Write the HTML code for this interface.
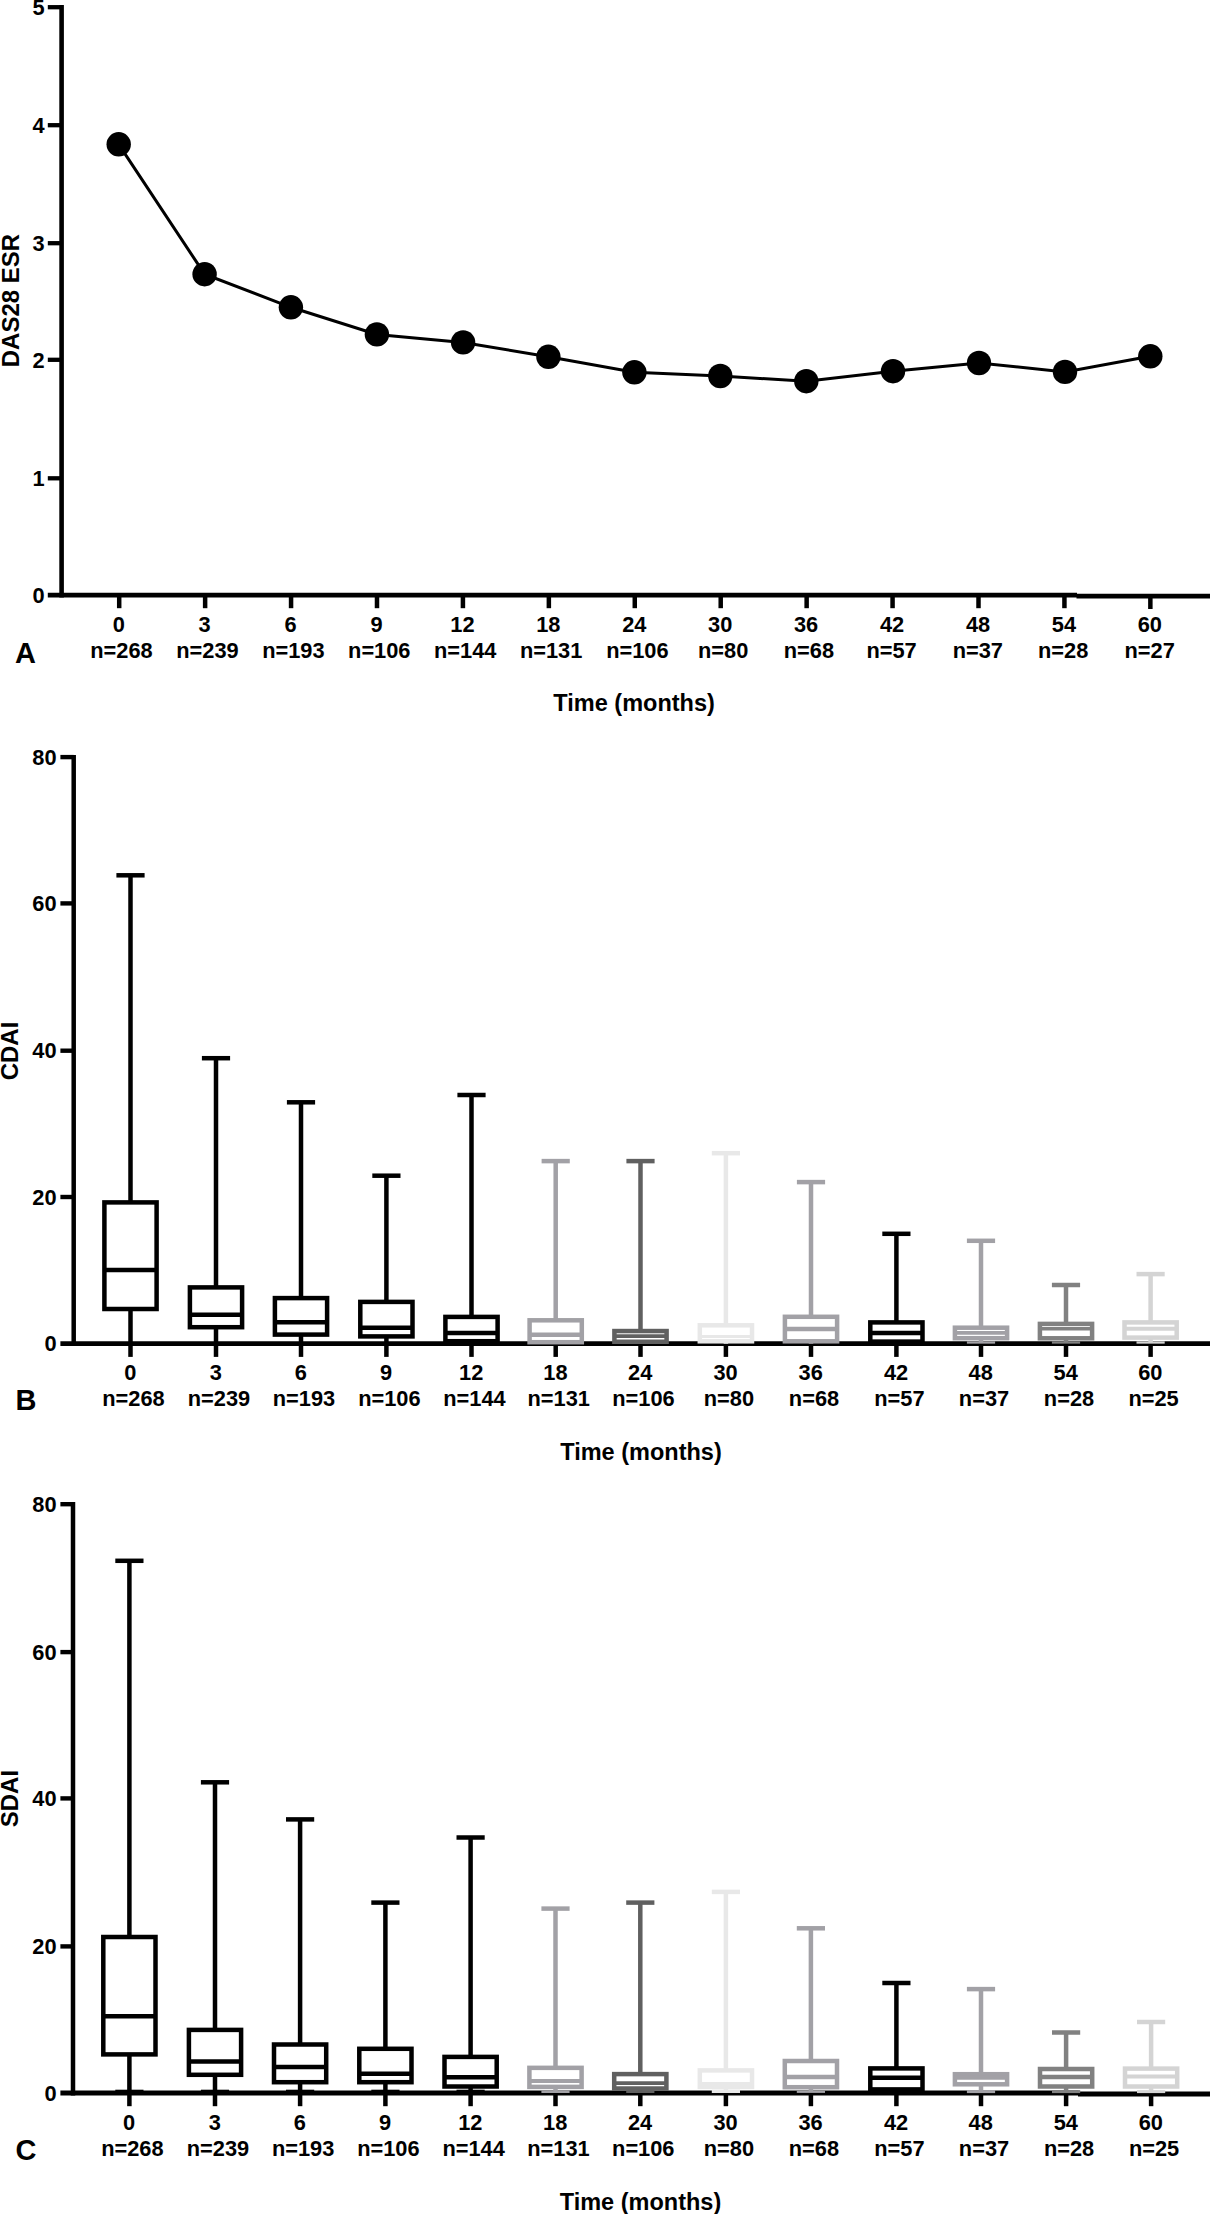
<!DOCTYPE html>
<html lang="en">
<head>
<meta charset="utf-8">
<title>DAS28 ESR, CDAI and SDAI over time</title>
<style>
html, body { margin: 0; padding: 0; background: #fff; }
svg { display: block; }
text { font-family: "Liberation Sans", Arial, Helvetica, sans-serif; font-weight: bold; fill: #000; }
</style>
</head>
<body>
<svg width="1210" height="2214" viewBox="0 0 1210 2214">
<rect width="1210" height="2214" fill="#fff"/>
<line x1="61.60" y1="5.00" x2="61.60" y2="597.60" stroke="#000" stroke-width="4.6" stroke-linecap="butt"/>
<line x1="47.80" y1="595.20" x2="1077.00" y2="595.20" stroke="#000" stroke-width="4.8" stroke-linecap="butt"/>
<line x1="1076.50" y1="596.20" x2="1210.00" y2="596.20" stroke="#000" stroke-width="4.8" stroke-linecap="butt"/>
<text x="44.60" y="602.90" font-size="21.8" text-anchor="end">0</text>
<line x1="47.80" y1="478.30" x2="61.60" y2="478.30" stroke="#000" stroke-width="4.3" stroke-linecap="butt"/>
<text x="44.60" y="486.00" font-size="21.8" text-anchor="end">1</text>
<line x1="47.80" y1="359.80" x2="61.60" y2="359.80" stroke="#000" stroke-width="4.3" stroke-linecap="butt"/>
<text x="44.60" y="367.50" font-size="21.8" text-anchor="end">2</text>
<line x1="47.80" y1="243.20" x2="61.60" y2="243.20" stroke="#000" stroke-width="4.3" stroke-linecap="butt"/>
<text x="44.60" y="250.90" font-size="21.8" text-anchor="end">3</text>
<line x1="47.80" y1="125.20" x2="61.60" y2="125.20" stroke="#000" stroke-width="4.3" stroke-linecap="butt"/>
<text x="44.60" y="132.90" font-size="21.8" text-anchor="end">4</text>
<line x1="47.80" y1="7.20" x2="61.60" y2="7.20" stroke="#000" stroke-width="4.3" stroke-linecap="butt"/>
<text x="44.60" y="14.90" font-size="21.8" text-anchor="end">5</text>
<text transform="translate(18.50 300.60) rotate(-90)" font-size="24" text-anchor="middle">DAS28 ESR</text>
<line x1="119.20" y1="595.20" x2="119.20" y2="608.20" stroke="#000" stroke-width="4.5" stroke-linecap="butt"/>
<text x="118.70" y="631.80" font-size="21.8" text-anchor="middle">0</text>
<text x="121.50" y="658.20" font-size="21.8" text-anchor="middle">n=268</text>
<line x1="205.13" y1="595.20" x2="205.13" y2="608.20" stroke="#000" stroke-width="4.5" stroke-linecap="butt"/>
<text x="204.63" y="631.80" font-size="21.8" text-anchor="middle">3</text>
<text x="207.43" y="658.20" font-size="21.8" text-anchor="middle">n=239</text>
<line x1="291.06" y1="595.20" x2="291.06" y2="608.20" stroke="#000" stroke-width="4.5" stroke-linecap="butt"/>
<text x="290.56" y="631.80" font-size="21.8" text-anchor="middle">6</text>
<text x="293.36" y="658.20" font-size="21.8" text-anchor="middle">n=193</text>
<line x1="376.99" y1="595.20" x2="376.99" y2="608.20" stroke="#000" stroke-width="4.5" stroke-linecap="butt"/>
<text x="376.49" y="631.80" font-size="21.8" text-anchor="middle">9</text>
<text x="379.29" y="658.20" font-size="21.8" text-anchor="middle">n=106</text>
<line x1="462.92" y1="595.20" x2="462.92" y2="608.20" stroke="#000" stroke-width="4.5" stroke-linecap="butt"/>
<text x="462.42" y="631.80" font-size="21.8" text-anchor="middle">12</text>
<text x="465.22" y="658.20" font-size="21.8" text-anchor="middle">n=144</text>
<line x1="548.85" y1="595.20" x2="548.85" y2="608.20" stroke="#000" stroke-width="4.5" stroke-linecap="butt"/>
<text x="548.35" y="631.80" font-size="21.8" text-anchor="middle">18</text>
<text x="551.15" y="658.20" font-size="21.8" text-anchor="middle">n=131</text>
<line x1="634.78" y1="595.20" x2="634.78" y2="608.20" stroke="#000" stroke-width="4.5" stroke-linecap="butt"/>
<text x="634.28" y="631.80" font-size="21.8" text-anchor="middle">24</text>
<text x="637.38" y="658.20" font-size="21.8" text-anchor="middle">n=106</text>
<line x1="720.71" y1="595.20" x2="720.71" y2="608.20" stroke="#000" stroke-width="4.5" stroke-linecap="butt"/>
<text x="720.21" y="631.80" font-size="21.8" text-anchor="middle">30</text>
<text x="723.21" y="658.20" font-size="21.8" text-anchor="middle">n=80</text>
<line x1="806.64" y1="595.20" x2="806.64" y2="608.20" stroke="#000" stroke-width="4.5" stroke-linecap="butt"/>
<text x="806.14" y="631.80" font-size="21.8" text-anchor="middle">36</text>
<text x="808.94" y="658.20" font-size="21.8" text-anchor="middle">n=68</text>
<line x1="892.57" y1="595.20" x2="892.57" y2="608.20" stroke="#000" stroke-width="4.5" stroke-linecap="butt"/>
<text x="892.07" y="631.80" font-size="21.8" text-anchor="middle">42</text>
<text x="891.57" y="658.20" font-size="21.8" text-anchor="middle">n=57</text>
<line x1="978.50" y1="595.20" x2="978.50" y2="608.20" stroke="#000" stroke-width="4.5" stroke-linecap="butt"/>
<text x="978.00" y="631.80" font-size="21.8" text-anchor="middle">48</text>
<text x="977.80" y="658.20" font-size="21.8" text-anchor="middle">n=37</text>
<line x1="1064.43" y1="595.20" x2="1064.43" y2="608.20" stroke="#000" stroke-width="4.5" stroke-linecap="butt"/>
<text x="1063.93" y="631.80" font-size="21.8" text-anchor="middle">54</text>
<text x="1063.13" y="658.20" font-size="21.8" text-anchor="middle">n=28</text>
<line x1="1150.36" y1="595.20" x2="1150.36" y2="609.00" stroke="#000" stroke-width="4.5" stroke-linecap="butt"/>
<text x="1149.86" y="631.80" font-size="21.8" text-anchor="middle">60</text>
<text x="1149.66" y="658.20" font-size="21.8" text-anchor="middle">n=27</text>
<text x="25.45" y="662.80" font-size="29" text-anchor="middle">A</text>
<text x="634.10" y="711.10" font-size="23.5" text-anchor="middle">Time (months)</text>
<polyline fill="none" stroke="#000" stroke-width="3" points="118.7,144.3 204.6,274.2 290.9,307.3 376.9,334.4 463.1,342.4 548.4,356.8 634.4,372.3 720.3,376.0 806.3,381.2 893.0,371.2 979.0,363.0 1065.0,371.9 1150.3,356.3"/>
<circle cx="118.7" cy="144.3" r="12.2" fill="#000"/>
<circle cx="204.6" cy="274.2" r="12.2" fill="#000"/>
<circle cx="290.9" cy="307.3" r="12.2" fill="#000"/>
<circle cx="376.9" cy="334.4" r="12.2" fill="#000"/>
<circle cx="463.1" cy="342.4" r="12.2" fill="#000"/>
<circle cx="548.4" cy="356.8" r="12.2" fill="#000"/>
<circle cx="634.4" cy="372.3" r="12.2" fill="#000"/>
<circle cx="720.3" cy="376.0" r="12.2" fill="#000"/>
<circle cx="806.3" cy="381.2" r="12.2" fill="#000"/>
<circle cx="893.0" cy="371.2" r="12.2" fill="#000"/>
<circle cx="979.0" cy="363.0" r="12.2" fill="#000"/>
<circle cx="1065.0" cy="371.9" r="12.2" fill="#000"/>
<circle cx="1150.3" cy="356.3" r="12.2" fill="#000"/>
<line x1="73.70" y1="754.90" x2="73.70" y2="1346.10" stroke="#000" stroke-width="4.5" stroke-linecap="butt"/>
<line x1="60.40" y1="1343.70" x2="1210.00" y2="1343.70" stroke="#000" stroke-width="4.8" stroke-linecap="butt"/>
<text x="56.60" y="1351.40" font-size="21.8" text-anchor="end">0</text>
<line x1="60.40" y1="1197.00" x2="73.70" y2="1197.00" stroke="#000" stroke-width="4.4" stroke-linecap="butt"/>
<text x="56.60" y="1204.70" font-size="21.8" text-anchor="end">20</text>
<line x1="60.40" y1="1050.70" x2="73.70" y2="1050.70" stroke="#000" stroke-width="4.4" stroke-linecap="butt"/>
<text x="56.60" y="1058.40" font-size="21.8" text-anchor="end">40</text>
<line x1="60.40" y1="903.40" x2="73.70" y2="903.40" stroke="#000" stroke-width="4.4" stroke-linecap="butt"/>
<text x="56.60" y="911.10" font-size="21.8" text-anchor="end">60</text>
<line x1="60.40" y1="757.10" x2="73.70" y2="757.10" stroke="#000" stroke-width="4.4" stroke-linecap="butt"/>
<text x="56.60" y="764.80" font-size="21.8" text-anchor="end">80</text>
<text transform="translate(18.25 1051.00) rotate(-90)" font-size="24" text-anchor="middle">CDAI</text>
<line x1="130.50" y1="1343.70" x2="130.50" y2="1356.90" stroke="#000" stroke-width="4.5" stroke-linecap="butt"/>
<text x="130.20" y="1380.40" font-size="21.8" text-anchor="middle">0</text>
<text x="133.50" y="1406.30" font-size="21.8" text-anchor="middle">n=268</text>
<line x1="216.00" y1="1343.70" x2="216.00" y2="1356.90" stroke="#000" stroke-width="4.5" stroke-linecap="butt"/>
<text x="215.70" y="1380.40" font-size="21.8" text-anchor="middle">3</text>
<text x="219.00" y="1406.30" font-size="21.8" text-anchor="middle">n=239</text>
<line x1="301.00" y1="1343.70" x2="301.00" y2="1356.90" stroke="#000" stroke-width="4.5" stroke-linecap="butt"/>
<text x="300.70" y="1380.40" font-size="21.8" text-anchor="middle">6</text>
<text x="304.00" y="1406.30" font-size="21.8" text-anchor="middle">n=193</text>
<line x1="386.40" y1="1343.70" x2="386.40" y2="1356.90" stroke="#000" stroke-width="4.5" stroke-linecap="butt"/>
<text x="386.10" y="1380.40" font-size="21.8" text-anchor="middle">9</text>
<text x="389.40" y="1406.30" font-size="21.8" text-anchor="middle">n=106</text>
<line x1="471.50" y1="1343.70" x2="471.50" y2="1356.90" stroke="#000" stroke-width="4.5" stroke-linecap="butt"/>
<text x="471.20" y="1380.40" font-size="21.8" text-anchor="middle">12</text>
<text x="474.50" y="1406.30" font-size="21.8" text-anchor="middle">n=144</text>
<line x1="555.70" y1="1343.70" x2="555.70" y2="1356.90" stroke="#000" stroke-width="4.5" stroke-linecap="butt"/>
<text x="555.40" y="1380.40" font-size="21.8" text-anchor="middle">18</text>
<text x="558.70" y="1406.30" font-size="21.8" text-anchor="middle">n=131</text>
<line x1="640.50" y1="1343.70" x2="640.50" y2="1356.90" stroke="#000" stroke-width="4.5" stroke-linecap="butt"/>
<text x="640.20" y="1380.40" font-size="21.8" text-anchor="middle">24</text>
<text x="643.50" y="1406.30" font-size="21.8" text-anchor="middle">n=106</text>
<line x1="725.90" y1="1343.70" x2="725.90" y2="1356.90" stroke="#000" stroke-width="4.5" stroke-linecap="butt"/>
<text x="725.60" y="1380.40" font-size="21.8" text-anchor="middle">30</text>
<text x="728.90" y="1406.30" font-size="21.8" text-anchor="middle">n=80</text>
<line x1="811.00" y1="1343.70" x2="811.00" y2="1356.90" stroke="#000" stroke-width="4.5" stroke-linecap="butt"/>
<text x="810.70" y="1380.40" font-size="21.8" text-anchor="middle">36</text>
<text x="814.00" y="1406.30" font-size="21.8" text-anchor="middle">n=68</text>
<line x1="896.40" y1="1343.70" x2="896.40" y2="1356.90" stroke="#000" stroke-width="4.5" stroke-linecap="butt"/>
<text x="896.10" y="1380.40" font-size="21.8" text-anchor="middle">42</text>
<text x="899.40" y="1406.30" font-size="21.8" text-anchor="middle">n=57</text>
<line x1="981.00" y1="1343.70" x2="981.00" y2="1356.90" stroke="#000" stroke-width="4.5" stroke-linecap="butt"/>
<text x="980.70" y="1380.40" font-size="21.8" text-anchor="middle">48</text>
<text x="984.00" y="1406.30" font-size="21.8" text-anchor="middle">n=37</text>
<line x1="1066.00" y1="1343.70" x2="1066.00" y2="1356.90" stroke="#000" stroke-width="4.5" stroke-linecap="butt"/>
<text x="1065.70" y="1380.40" font-size="21.8" text-anchor="middle">54</text>
<text x="1069.00" y="1406.30" font-size="21.8" text-anchor="middle">n=28</text>
<line x1="1150.60" y1="1343.70" x2="1150.60" y2="1356.90" stroke="#000" stroke-width="4.5" stroke-linecap="butt"/>
<text x="1150.30" y="1380.40" font-size="21.8" text-anchor="middle">60</text>
<text x="1153.60" y="1406.30" font-size="21.8" text-anchor="middle">n=25</text>
<text x="26.00" y="1410.30" font-size="29" text-anchor="middle">B</text>
<text x="641.00" y="1460.10" font-size="23.5" text-anchor="middle">Time (months)</text>
<line x1="130.50" y1="875.30" x2="130.50" y2="1202.40" stroke="#000" stroke-width="4.5" stroke-linecap="butt"/>
<line x1="116.40" y1="875.30" x2="144.60" y2="875.30" stroke="#000" stroke-width="4.5" stroke-linecap="butt"/>
<line x1="130.50" y1="1309.00" x2="130.50" y2="1343.70" stroke="#000" stroke-width="4.5" stroke-linecap="butt"/>
<rect x="104.40" y="1202.40" width="52.20" height="106.60" fill="#fff" stroke="#000" stroke-width="4.5"/>
<line x1="104.40" y1="1270.10" x2="156.60" y2="1270.10" stroke="#000" stroke-width="4.5" stroke-linecap="butt"/>
<line x1="216.00" y1="1058.20" x2="216.00" y2="1287.40" stroke="#000" stroke-width="4.5" stroke-linecap="butt"/>
<line x1="201.90" y1="1058.20" x2="230.10" y2="1058.20" stroke="#000" stroke-width="4.5" stroke-linecap="butt"/>
<line x1="216.00" y1="1327.20" x2="216.00" y2="1343.70" stroke="#000" stroke-width="4.5" stroke-linecap="butt"/>
<rect x="189.90" y="1287.40" width="52.20" height="39.80" fill="#fff" stroke="#000" stroke-width="4.5"/>
<line x1="189.90" y1="1314.70" x2="242.10" y2="1314.70" stroke="#000" stroke-width="4.5" stroke-linecap="butt"/>
<line x1="301.00" y1="1102.30" x2="301.00" y2="1298.10" stroke="#000" stroke-width="4.5" stroke-linecap="butt"/>
<line x1="286.90" y1="1102.30" x2="315.10" y2="1102.30" stroke="#000" stroke-width="4.5" stroke-linecap="butt"/>
<line x1="301.00" y1="1334.60" x2="301.00" y2="1343.70" stroke="#000" stroke-width="4.5" stroke-linecap="butt"/>
<rect x="274.90" y="1298.10" width="52.20" height="36.50" fill="#fff" stroke="#000" stroke-width="4.5"/>
<line x1="274.90" y1="1322.20" x2="327.10" y2="1322.20" stroke="#000" stroke-width="4.5" stroke-linecap="butt"/>
<line x1="386.40" y1="1175.70" x2="386.40" y2="1301.90" stroke="#000" stroke-width="4.5" stroke-linecap="butt"/>
<line x1="372.30" y1="1175.70" x2="400.50" y2="1175.70" stroke="#000" stroke-width="4.5" stroke-linecap="butt"/>
<line x1="386.40" y1="1336.40" x2="386.40" y2="1343.70" stroke="#000" stroke-width="4.5" stroke-linecap="butt"/>
<rect x="360.30" y="1301.90" width="52.20" height="34.50" fill="#fff" stroke="#000" stroke-width="4.5"/>
<line x1="360.30" y1="1327.80" x2="412.50" y2="1327.80" stroke="#000" stroke-width="4.5" stroke-linecap="butt"/>
<line x1="471.50" y1="1095.00" x2="471.50" y2="1316.90" stroke="#000" stroke-width="4.5" stroke-linecap="butt"/>
<line x1="457.40" y1="1095.00" x2="485.60" y2="1095.00" stroke="#000" stroke-width="4.5" stroke-linecap="butt"/>
<line x1="471.50" y1="1341.20" x2="471.50" y2="1343.70" stroke="#000" stroke-width="4.5" stroke-linecap="butt"/>
<rect x="445.40" y="1316.90" width="52.20" height="24.30" fill="#fff" stroke="#000" stroke-width="4.5"/>
<line x1="445.40" y1="1333.00" x2="497.60" y2="1333.00" stroke="#000" stroke-width="4.5" stroke-linecap="butt"/>
<line x1="555.70" y1="1161.10" x2="555.70" y2="1320.30" stroke="#a2a1a6" stroke-width="4.5" stroke-linecap="butt"/>
<line x1="541.60" y1="1161.10" x2="569.80" y2="1161.10" stroke="#a2a1a6" stroke-width="4.5" stroke-linecap="butt"/>
<line x1="555.70" y1="1342.20" x2="555.70" y2="1343.70" stroke="#a2a1a6" stroke-width="4.5" stroke-linecap="butt"/>
<rect x="529.60" y="1320.30" width="52.20" height="21.90" fill="#fff" stroke="#a2a1a6" stroke-width="4.5"/>
<line x1="529.60" y1="1334.75" x2="581.80" y2="1334.75" stroke="#a2a1a6" stroke-width="4.5" stroke-linecap="butt"/>
<line x1="640.50" y1="1161.10" x2="640.50" y2="1331.05" stroke="#606060" stroke-width="4.5" stroke-linecap="butt"/>
<line x1="626.40" y1="1161.10" x2="654.60" y2="1161.10" stroke="#606060" stroke-width="4.5" stroke-linecap="butt"/>
<line x1="640.50" y1="1341.75" x2="640.50" y2="1343.70" stroke="#606060" stroke-width="4.5" stroke-linecap="butt"/>
<rect x="614.40" y="1331.05" width="52.20" height="10.70" fill="#fff" stroke="#606060" stroke-width="4.5"/>
<line x1="614.40" y1="1336.20" x2="666.60" y2="1336.20" stroke="#606060" stroke-width="3.8" stroke-linecap="butt"/>
<line x1="725.90" y1="1153.20" x2="725.90" y2="1325.30" stroke="#e8e8e8" stroke-width="4.5" stroke-linecap="butt"/>
<line x1="711.80" y1="1153.20" x2="740.00" y2="1153.20" stroke="#e8e8e8" stroke-width="4.5" stroke-linecap="butt"/>
<line x1="725.90" y1="1341.30" x2="725.90" y2="1343.70" stroke="#e8e8e8" stroke-width="4.5" stroke-linecap="butt"/>
<rect x="699.80" y="1325.30" width="52.20" height="16.00" fill="#fff" stroke="#e8e8e8" stroke-width="4.5"/>
<line x1="699.80" y1="1336.60" x2="752.00" y2="1336.60" stroke="#e8e8e8" stroke-width="3.0" stroke-linecap="butt"/>
<line x1="811.00" y1="1182.10" x2="811.00" y2="1316.80" stroke="#a2a1a6" stroke-width="4.5" stroke-linecap="butt"/>
<line x1="796.90" y1="1182.10" x2="825.10" y2="1182.10" stroke="#a2a1a6" stroke-width="4.5" stroke-linecap="butt"/>
<line x1="811.00" y1="1341.30" x2="811.00" y2="1343.70" stroke="#a2a1a6" stroke-width="4.5" stroke-linecap="butt"/>
<rect x="784.90" y="1316.80" width="52.20" height="24.50" fill="#fff" stroke="#a2a1a6" stroke-width="4.5"/>
<line x1="784.90" y1="1328.90" x2="837.10" y2="1328.90" stroke="#a2a1a6" stroke-width="4.5" stroke-linecap="butt"/>
<line x1="896.40" y1="1233.80" x2="896.40" y2="1322.40" stroke="#000" stroke-width="4.5" stroke-linecap="butt"/>
<line x1="882.30" y1="1233.80" x2="910.50" y2="1233.80" stroke="#000" stroke-width="4.5" stroke-linecap="butt"/>
<line x1="896.40" y1="1341.60" x2="896.40" y2="1343.70" stroke="#000" stroke-width="4.5" stroke-linecap="butt"/>
<rect x="870.30" y="1322.40" width="52.20" height="19.20" fill="#fff" stroke="#000" stroke-width="4.5"/>
<line x1="870.30" y1="1333.00" x2="922.50" y2="1333.00" stroke="#000" stroke-width="4.5" stroke-linecap="butt"/>
<line x1="981.00" y1="1240.80" x2="981.00" y2="1327.70" stroke="#a2a1a6" stroke-width="4.5" stroke-linecap="butt"/>
<line x1="966.90" y1="1240.80" x2="995.10" y2="1240.80" stroke="#a2a1a6" stroke-width="4.5" stroke-linecap="butt"/>
<line x1="981.00" y1="1338.20" x2="981.00" y2="1342.50" stroke="#a2a1a6" stroke-width="4.5" stroke-linecap="butt"/>
<line x1="966.90" y1="1342.50" x2="995.10" y2="1342.50" stroke="#a2a1a6" stroke-width="2.3" stroke-linecap="butt"/>
<rect x="954.90" y="1327.70" width="52.20" height="10.50" fill="#fff" stroke="#a2a1a6" stroke-width="4.5"/>
<line x1="954.90" y1="1332.95" x2="1007.10" y2="1332.95" stroke="#a2a1a6" stroke-width="3.7" stroke-linecap="butt"/>
<line x1="1066.00" y1="1285.00" x2="1066.00" y2="1323.90" stroke="#818181" stroke-width="4.5" stroke-linecap="butt"/>
<line x1="1051.90" y1="1285.00" x2="1080.10" y2="1285.00" stroke="#818181" stroke-width="4.5" stroke-linecap="butt"/>
<line x1="1066.00" y1="1338.30" x2="1066.00" y2="1342.50" stroke="#818181" stroke-width="4.5" stroke-linecap="butt"/>
<line x1="1051.90" y1="1342.50" x2="1080.10" y2="1342.50" stroke="#818181" stroke-width="2.3" stroke-linecap="butt"/>
<rect x="1039.90" y="1323.90" width="52.20" height="14.40" fill="#fff" stroke="#818181" stroke-width="4.5"/>
<line x1="1039.90" y1="1328.75" x2="1092.10" y2="1328.75" stroke="#818181" stroke-width="3.7" stroke-linecap="butt"/>
<line x1="1150.60" y1="1274.10" x2="1150.60" y2="1322.40" stroke="#d4d4d4" stroke-width="4.5" stroke-linecap="butt"/>
<line x1="1136.50" y1="1274.10" x2="1164.70" y2="1274.10" stroke="#d4d4d4" stroke-width="4.5" stroke-linecap="butt"/>
<line x1="1150.60" y1="1337.60" x2="1150.60" y2="1342.50" stroke="#d4d4d4" stroke-width="4.5" stroke-linecap="butt"/>
<line x1="1136.50" y1="1342.50" x2="1164.70" y2="1342.50" stroke="#d4d4d4" stroke-width="2.3" stroke-linecap="butt"/>
<rect x="1124.50" y="1322.40" width="52.20" height="15.20" fill="#fff" stroke="#d4d4d4" stroke-width="4.5"/>
<line x1="1124.50" y1="1328.80" x2="1176.70" y2="1328.80" stroke="#d4d4d4" stroke-width="4.0" stroke-linecap="butt"/>
<line x1="73.00" y1="1502.00" x2="73.00" y2="2095.40" stroke="#000" stroke-width="4.5" stroke-linecap="butt"/>
<line x1="60.40" y1="2093.00" x2="1078.50" y2="2093.00" stroke="#000" stroke-width="4.8" stroke-linecap="butt"/>
<line x1="1078.00" y1="2094.00" x2="1210.00" y2="2094.00" stroke="#000" stroke-width="4.8" stroke-linecap="butt"/>
<text x="56.60" y="2100.70" font-size="21.8" text-anchor="end">0</text>
<line x1="60.40" y1="1946.40" x2="73.00" y2="1946.40" stroke="#000" stroke-width="4.4" stroke-linecap="butt"/>
<text x="56.60" y="1954.10" font-size="21.8" text-anchor="end">20</text>
<line x1="60.40" y1="1798.40" x2="73.00" y2="1798.40" stroke="#000" stroke-width="4.4" stroke-linecap="butt"/>
<text x="56.60" y="1806.10" font-size="21.8" text-anchor="end">40</text>
<line x1="60.40" y1="1652.10" x2="73.00" y2="1652.10" stroke="#000" stroke-width="4.4" stroke-linecap="butt"/>
<text x="56.60" y="1659.80" font-size="21.8" text-anchor="end">60</text>
<line x1="60.40" y1="1504.20" x2="73.00" y2="1504.20" stroke="#000" stroke-width="4.4" stroke-linecap="butt"/>
<text x="56.60" y="1511.90" font-size="21.8" text-anchor="end">80</text>
<text transform="translate(18.25 1798.60) rotate(-90)" font-size="24" text-anchor="middle">SDAI</text>
<line x1="129.40" y1="2093.00" x2="129.40" y2="2106.20" stroke="#000" stroke-width="4.5" stroke-linecap="butt"/>
<text x="129.10" y="2129.70" font-size="21.8" text-anchor="middle">0</text>
<text x="132.40" y="2155.60" font-size="21.8" text-anchor="middle">n=268</text>
<line x1="215.00" y1="2093.00" x2="215.00" y2="2106.20" stroke="#000" stroke-width="4.5" stroke-linecap="butt"/>
<text x="214.70" y="2129.70" font-size="21.8" text-anchor="middle">3</text>
<text x="218.00" y="2155.60" font-size="21.8" text-anchor="middle">n=239</text>
<line x1="300.10" y1="2093.00" x2="300.10" y2="2106.20" stroke="#000" stroke-width="4.5" stroke-linecap="butt"/>
<text x="299.80" y="2129.70" font-size="21.8" text-anchor="middle">6</text>
<text x="303.10" y="2155.60" font-size="21.8" text-anchor="middle">n=193</text>
<line x1="385.40" y1="2093.00" x2="385.40" y2="2106.20" stroke="#000" stroke-width="4.5" stroke-linecap="butt"/>
<text x="385.10" y="2129.70" font-size="21.8" text-anchor="middle">9</text>
<text x="388.40" y="2155.60" font-size="21.8" text-anchor="middle">n=106</text>
<line x1="470.60" y1="2093.00" x2="470.60" y2="2106.20" stroke="#000" stroke-width="4.5" stroke-linecap="butt"/>
<text x="470.30" y="2129.70" font-size="21.8" text-anchor="middle">12</text>
<text x="473.60" y="2155.60" font-size="21.8" text-anchor="middle">n=144</text>
<line x1="555.50" y1="2093.00" x2="555.50" y2="2106.20" stroke="#000" stroke-width="4.5" stroke-linecap="butt"/>
<text x="555.20" y="2129.70" font-size="21.8" text-anchor="middle">18</text>
<text x="558.50" y="2155.60" font-size="21.8" text-anchor="middle">n=131</text>
<line x1="640.30" y1="2093.00" x2="640.30" y2="2106.20" stroke="#000" stroke-width="4.5" stroke-linecap="butt"/>
<text x="640.00" y="2129.70" font-size="21.8" text-anchor="middle">24</text>
<text x="643.30" y="2155.60" font-size="21.8" text-anchor="middle">n=106</text>
<line x1="725.90" y1="2093.00" x2="725.90" y2="2106.20" stroke="#000" stroke-width="4.5" stroke-linecap="butt"/>
<text x="725.60" y="2129.70" font-size="21.8" text-anchor="middle">30</text>
<text x="728.90" y="2155.60" font-size="21.8" text-anchor="middle">n=80</text>
<line x1="810.90" y1="2093.00" x2="810.90" y2="2106.20" stroke="#000" stroke-width="4.5" stroke-linecap="butt"/>
<text x="810.60" y="2129.70" font-size="21.8" text-anchor="middle">36</text>
<text x="813.90" y="2155.60" font-size="21.8" text-anchor="middle">n=68</text>
<line x1="896.40" y1="2093.00" x2="896.40" y2="2106.20" stroke="#000" stroke-width="4.5" stroke-linecap="butt"/>
<text x="896.10" y="2129.70" font-size="21.8" text-anchor="middle">42</text>
<text x="899.40" y="2155.60" font-size="21.8" text-anchor="middle">n=57</text>
<line x1="981.00" y1="2093.00" x2="981.00" y2="2106.20" stroke="#000" stroke-width="4.5" stroke-linecap="butt"/>
<text x="980.70" y="2129.70" font-size="21.8" text-anchor="middle">48</text>
<text x="984.00" y="2155.60" font-size="21.8" text-anchor="middle">n=37</text>
<line x1="1066.10" y1="2093.00" x2="1066.10" y2="2106.20" stroke="#000" stroke-width="4.5" stroke-linecap="butt"/>
<text x="1065.80" y="2129.70" font-size="21.8" text-anchor="middle">54</text>
<text x="1069.10" y="2155.60" font-size="21.8" text-anchor="middle">n=28</text>
<line x1="1151.10" y1="2093.00" x2="1151.10" y2="2106.20" stroke="#000" stroke-width="4.5" stroke-linecap="butt"/>
<text x="1150.80" y="2129.70" font-size="21.8" text-anchor="middle">60</text>
<text x="1154.10" y="2155.60" font-size="21.8" text-anchor="middle">n=25</text>
<text x="26.00" y="2159.60" font-size="29" text-anchor="middle">C</text>
<text x="640.50" y="2210.10" font-size="23.5" text-anchor="middle">Time (months)</text>
<line x1="129.40" y1="1560.80" x2="129.40" y2="1937.00" stroke="#000" stroke-width="4.5" stroke-linecap="butt"/>
<line x1="115.30" y1="1560.80" x2="143.50" y2="1560.80" stroke="#000" stroke-width="4.5" stroke-linecap="butt"/>
<line x1="129.40" y1="2054.40" x2="129.40" y2="2091.20" stroke="#000" stroke-width="4.5" stroke-linecap="butt"/>
<line x1="115.30" y1="2091.20" x2="143.50" y2="2091.20" stroke="#000" stroke-width="3.0" stroke-linecap="butt"/>
<rect x="103.30" y="1937.00" width="52.20" height="117.40" fill="#fff" stroke="#000" stroke-width="4.5"/>
<line x1="103.30" y1="2016.30" x2="155.50" y2="2016.30" stroke="#000" stroke-width="4.5" stroke-linecap="butt"/>
<line x1="215.00" y1="1782.30" x2="215.00" y2="2029.90" stroke="#000" stroke-width="4.5" stroke-linecap="butt"/>
<line x1="200.90" y1="1782.30" x2="229.10" y2="1782.30" stroke="#000" stroke-width="4.5" stroke-linecap="butt"/>
<line x1="215.00" y1="2074.80" x2="215.00" y2="2091.20" stroke="#000" stroke-width="4.5" stroke-linecap="butt"/>
<line x1="200.90" y1="2091.20" x2="229.10" y2="2091.20" stroke="#000" stroke-width="3.0" stroke-linecap="butt"/>
<rect x="188.90" y="2029.90" width="52.20" height="44.90" fill="#fff" stroke="#000" stroke-width="4.5"/>
<line x1="188.90" y1="2061.40" x2="241.10" y2="2061.40" stroke="#000" stroke-width="4.5" stroke-linecap="butt"/>
<line x1="300.10" y1="1819.40" x2="300.10" y2="2044.50" stroke="#000" stroke-width="4.5" stroke-linecap="butt"/>
<line x1="286.00" y1="1819.40" x2="314.20" y2="1819.40" stroke="#000" stroke-width="4.5" stroke-linecap="butt"/>
<line x1="300.10" y1="2082.20" x2="300.10" y2="2091.20" stroke="#000" stroke-width="4.5" stroke-linecap="butt"/>
<line x1="286.00" y1="2091.20" x2="314.20" y2="2091.20" stroke="#000" stroke-width="3.0" stroke-linecap="butt"/>
<rect x="274.00" y="2044.50" width="52.20" height="37.70" fill="#fff" stroke="#000" stroke-width="4.5"/>
<line x1="274.00" y1="2067.10" x2="326.20" y2="2067.10" stroke="#000" stroke-width="4.5" stroke-linecap="butt"/>
<line x1="385.40" y1="1902.60" x2="385.40" y2="2048.80" stroke="#000" stroke-width="4.5" stroke-linecap="butt"/>
<line x1="371.30" y1="1902.60" x2="399.50" y2="1902.60" stroke="#000" stroke-width="4.5" stroke-linecap="butt"/>
<line x1="385.40" y1="2082.20" x2="385.40" y2="2091.20" stroke="#000" stroke-width="4.5" stroke-linecap="butt"/>
<line x1="371.30" y1="2091.20" x2="399.50" y2="2091.20" stroke="#000" stroke-width="3.0" stroke-linecap="butt"/>
<rect x="359.30" y="2048.80" width="52.20" height="33.40" fill="#fff" stroke="#000" stroke-width="4.5"/>
<line x1="359.30" y1="2073.80" x2="411.50" y2="2073.80" stroke="#000" stroke-width="4.5" stroke-linecap="butt"/>
<line x1="470.60" y1="1837.50" x2="470.60" y2="2056.90" stroke="#000" stroke-width="4.5" stroke-linecap="butt"/>
<line x1="456.50" y1="1837.50" x2="484.70" y2="1837.50" stroke="#000" stroke-width="4.5" stroke-linecap="butt"/>
<line x1="470.60" y1="2086.50" x2="470.60" y2="2091.20" stroke="#000" stroke-width="4.5" stroke-linecap="butt"/>
<line x1="456.50" y1="2091.20" x2="484.70" y2="2091.20" stroke="#000" stroke-width="3.0" stroke-linecap="butt"/>
<rect x="444.50" y="2056.90" width="52.20" height="29.60" fill="#fff" stroke="#000" stroke-width="4.5"/>
<line x1="444.50" y1="2077.20" x2="496.70" y2="2077.20" stroke="#000" stroke-width="4.5" stroke-linecap="butt"/>
<line x1="555.50" y1="1908.60" x2="555.50" y2="2067.85" stroke="#a2a1a6" stroke-width="4.5" stroke-linecap="butt"/>
<line x1="541.40" y1="1908.60" x2="569.60" y2="1908.60" stroke="#a2a1a6" stroke-width="4.5" stroke-linecap="butt"/>
<line x1="555.50" y1="2086.90" x2="555.50" y2="2091.70" stroke="#a2a1a6" stroke-width="4.5" stroke-linecap="butt"/>
<line x1="541.40" y1="2091.70" x2="569.60" y2="2091.70" stroke="#a2a1a6" stroke-width="2.6" stroke-linecap="butt"/>
<rect x="529.40" y="2067.85" width="52.20" height="19.05" fill="#fff" stroke="#a2a1a6" stroke-width="4.5"/>
<line x1="529.40" y1="2080.90" x2="581.60" y2="2080.90" stroke="#a2a1a6" stroke-width="4.0" stroke-linecap="butt"/>
<line x1="640.30" y1="1902.60" x2="640.30" y2="2074.10" stroke="#606060" stroke-width="4.5" stroke-linecap="butt"/>
<line x1="626.20" y1="1902.60" x2="654.40" y2="1902.60" stroke="#606060" stroke-width="4.5" stroke-linecap="butt"/>
<line x1="640.30" y1="2088.50" x2="640.30" y2="2091.70" stroke="#606060" stroke-width="4.5" stroke-linecap="butt"/>
<line x1="626.20" y1="2091.70" x2="654.40" y2="2091.70" stroke="#606060" stroke-width="2.6" stroke-linecap="butt"/>
<rect x="614.20" y="2074.10" width="52.20" height="14.40" fill="#fff" stroke="#606060" stroke-width="4.5"/>
<line x1="614.20" y1="2083.05" x2="666.40" y2="2083.05" stroke="#606060" stroke-width="3.7" stroke-linecap="butt"/>
<line x1="725.90" y1="1891.90" x2="725.90" y2="2070.40" stroke="#e8e8e8" stroke-width="4.5" stroke-linecap="butt"/>
<line x1="711.80" y1="1891.90" x2="740.00" y2="1891.90" stroke="#e8e8e8" stroke-width="4.5" stroke-linecap="butt"/>
<line x1="725.90" y1="2086.90" x2="725.90" y2="2091.30" stroke="#e8e8e8" stroke-width="4.5" stroke-linecap="butt"/>
<line x1="711.80" y1="2091.30" x2="740.00" y2="2091.30" stroke="#e8e8e8" stroke-width="3.4" stroke-linecap="butt"/>
<rect x="699.80" y="2070.40" width="52.20" height="16.50" fill="#fff" stroke="#e8e8e8" stroke-width="4.5"/>
<line x1="699.80" y1="2083.60" x2="752.00" y2="2083.60" stroke="#e8e8e8" stroke-width="3.0" stroke-linecap="butt"/>
<line x1="810.90" y1="1928.30" x2="810.90" y2="2061.00" stroke="#a2a1a6" stroke-width="4.5" stroke-linecap="butt"/>
<line x1="796.80" y1="1928.30" x2="825.00" y2="1928.30" stroke="#a2a1a6" stroke-width="4.5" stroke-linecap="butt"/>
<line x1="810.90" y1="2087.20" x2="810.90" y2="2091.80" stroke="#a2a1a6" stroke-width="4.5" stroke-linecap="butt"/>
<line x1="796.80" y1="2091.80" x2="825.00" y2="2091.80" stroke="#a2a1a6" stroke-width="2.2" stroke-linecap="butt"/>
<rect x="784.80" y="2061.00" width="52.20" height="26.20" fill="#fff" stroke="#a2a1a6" stroke-width="4.5"/>
<line x1="784.80" y1="2076.90" x2="837.00" y2="2076.90" stroke="#a2a1a6" stroke-width="4.5" stroke-linecap="butt"/>
<line x1="896.40" y1="1983.00" x2="896.40" y2="2068.40" stroke="#000" stroke-width="4.5" stroke-linecap="butt"/>
<line x1="882.30" y1="1983.00" x2="910.50" y2="1983.00" stroke="#000" stroke-width="4.5" stroke-linecap="butt"/>
<line x1="896.40" y1="2089.40" x2="896.40" y2="2093.00" stroke="#000" stroke-width="4.5" stroke-linecap="butt"/>
<rect x="870.30" y="2068.40" width="52.20" height="21.00" fill="#fff" stroke="#000" stroke-width="4.5"/>
<line x1="870.30" y1="2077.80" x2="922.50" y2="2077.80" stroke="#000" stroke-width="4.5" stroke-linecap="butt"/>
<line x1="981.00" y1="1989.10" x2="981.00" y2="2074.20" stroke="#a2a1a6" stroke-width="4.5" stroke-linecap="butt"/>
<line x1="966.90" y1="1989.10" x2="995.10" y2="1989.10" stroke="#a2a1a6" stroke-width="4.5" stroke-linecap="butt"/>
<line x1="981.00" y1="2084.30" x2="981.00" y2="2091.60" stroke="#a2a1a6" stroke-width="4.5" stroke-linecap="butt"/>
<line x1="966.90" y1="2091.60" x2="995.10" y2="2091.60" stroke="#a2a1a6" stroke-width="3.0" stroke-linecap="butt"/>
<rect x="954.90" y="2074.20" width="52.20" height="10.10" fill="#fff" stroke="#a2a1a6" stroke-width="4.5"/>
<line x1="954.90" y1="2077.60" x2="1007.10" y2="2077.60" stroke="#a2a1a6" stroke-width="4.5" stroke-linecap="butt"/>
<line x1="1066.10" y1="2032.50" x2="1066.10" y2="2069.00" stroke="#818181" stroke-width="4.5" stroke-linecap="butt"/>
<line x1="1052.00" y1="2032.50" x2="1080.20" y2="2032.50" stroke="#818181" stroke-width="4.5" stroke-linecap="butt"/>
<line x1="1066.10" y1="2086.50" x2="1066.10" y2="2091.60" stroke="#818181" stroke-width="4.5" stroke-linecap="butt"/>
<line x1="1052.00" y1="2091.60" x2="1080.20" y2="2091.60" stroke="#818181" stroke-width="3.0" stroke-linecap="butt"/>
<rect x="1040.00" y="2069.00" width="52.20" height="17.50" fill="#fff" stroke="#818181" stroke-width="4.5"/>
<line x1="1040.00" y1="2076.90" x2="1092.20" y2="2076.90" stroke="#818181" stroke-width="4.5" stroke-linecap="butt"/>
<line x1="1151.10" y1="2022.00" x2="1151.10" y2="2068.60" stroke="#d4d4d4" stroke-width="4.5" stroke-linecap="butt"/>
<line x1="1137.00" y1="2022.00" x2="1165.20" y2="2022.00" stroke="#d4d4d4" stroke-width="4.5" stroke-linecap="butt"/>
<line x1="1151.10" y1="2086.50" x2="1151.10" y2="2091.60" stroke="#d4d4d4" stroke-width="4.5" stroke-linecap="butt"/>
<line x1="1137.00" y1="2091.60" x2="1165.20" y2="2091.60" stroke="#d4d4d4" stroke-width="3.0" stroke-linecap="butt"/>
<rect x="1125.00" y="2068.60" width="52.20" height="17.90" fill="#fff" stroke="#d4d4d4" stroke-width="4.5"/>
<line x1="1125.00" y1="2076.50" x2="1177.20" y2="2076.50" stroke="#d4d4d4" stroke-width="4.0" stroke-linecap="butt"/>
</svg>
</body>
</html>
